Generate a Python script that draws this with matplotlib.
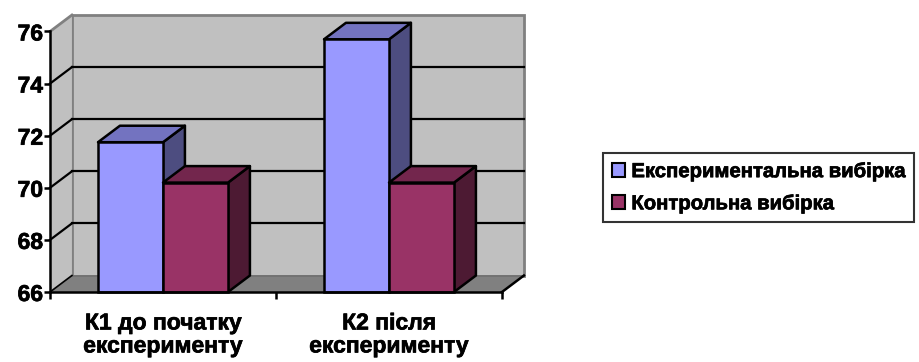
import matplotlib
matplotlib.use('Agg')
import matplotlib.pyplot as plt
import matplotlib.patheffects as pe
from matplotlib.patches import Polygon, Patch

plt.rcParams['font.family'] = ['Liberation Sans', 'DejaVu Sans']
plt.rcParams['font.weight'] = 'bold'

categories = ['К1 до початку\nексперименту', 'К2 після\nексперименту']
series_names = ['Експериментальна вибірка', 'Контрольна вибірка']
experimental = [71.75, 75.7]
control = [70.2, 70.2]
yticks = [66, 68, 70, 72, 74, 76]

front_cols = ['#9999FF', '#993366']
top_cols = ['#7373C0', '#73264D']
side_cols = ['#4D4D80', '#4D1A33']

ymin, ymax = 66, 76
dx, dy = 0.097, 0.633   # depth offset of the 3d box
bw = 0.2876             # bar width in category units
heavy = [pe.withStroke(linewidth=0.5, foreground='black')]

fig = plt.figure(figsize=(9.2, 3.62), dpi=100)
ax = fig.add_axes([50/920, 70/362, 452/920, 260.5/362])
ax.set_xlim(0, len(categories))
ax.set_ylim(ymin, ymax)
ax.patch.set_visible(False)
n = len(categories)

# walls and floor
wall = Polygon([(dx, ymin+dy), (n+dx, ymin+dy), (n+dx, ymax+dy), (dx, ymax+dy)],
               closed=True, fc='#C0C0C0', ec='#808080', lw=2, clip_on=False, zorder=0)
ax.add_patch(wall)
side = Polygon([(0, ymin), (dx, ymin+dy), (dx, ymax+dy), (0, ymax)],
               closed=True, fc='#C0C0C0', ec='none', clip_on=False, zorder=0)
ax.add_patch(side)
ax.plot([0, dx], [ymax, ymax+dy], color='#808080', lw=2, clip_on=False, zorder=1)
floor = Polygon([(0, ymin), (n, ymin), (n+dx, ymin+dy), (dx, ymin+dy)],
                closed=True, fc='#808080', ec='none', clip_on=False, zorder=1)
ax.add_patch(floor)
ax.plot([dx, n+dx], [ymin+dy, ymin+dy], color='#707070', lw=1.2, clip_on=False, zorder=1)
ax.plot([0, dx], [ymin, ymin+dy], color='black', lw=1.2, clip_on=False, zorder=1)
ax.plot([n, n+dx], [ymin, ymin+dy], color='black', lw=1.8, clip_on=False, zorder=1)

# gridlines on the back and side walls
for v in yticks[1:-1]:
    ax.plot([dx, n+dx], [v+dy, v+dy], color='black', lw=1.6, clip_on=False, zorder=1)
    ax.plot([0, dx], [v, v+dy], color='black', lw=1.6, clip_on=False, zorder=1)

# bars
for i in range(n):
    vals = [experimental[i], control[i]]
    for j, v in enumerate(vals):
        x0 = i + 0.5 - bw + j*bw
        front = Polygon([(x0, ymin), (x0+bw, ymin), (x0+bw, v), (x0, v)],
                        closed=True, fc=front_cols[j], ec='black', lw=1.8, zorder=3+j, clip_on=False)
        top = Polygon([(x0, v), (x0+bw, v), (x0+bw+dx, v+dy), (x0+dx, v+dy)],
                      closed=True, fc=top_cols[j], ec='black', lw=1.8, zorder=3+j, clip_on=False, joinstyle='round')
        sd = Polygon([(x0+bw, ymin), (x0+bw+dx, ymin+dy), (x0+bw+dx, v+dy), (x0+bw, v)],
                     closed=True, fc=side_cols[j], ec='black', lw=1.8, zorder=3+j, clip_on=False, joinstyle='round')
        ax.add_patch(sd)
        ax.add_patch(top)
        ax.add_patch(front)

# axes
for s in ['top', 'right']:
    ax.spines[s].set_visible(False)
ax.spines['left'].set_linewidth(1.8)
ax.spines['bottom'].set_linewidth(1.8)
ax.spines['left'].set_zorder(6)
ax.spines['bottom'].set_zorder(6)
ax.set_yticks(yticks)
ax.set_yticklabels([str(t) for t in yticks], fontsize=16.5, fontweight='bold')
ax.tick_params(axis='y', length=4, width=1.8, pad=1)
ax.set_xticks(range(n+1))
ax.set_xticklabels([])
ax.tick_params(axis='x', length=5, width=1.8)
ax.set_xticks([i+0.5 for i in range(n)], minor=True)
ax.set_xticklabels(categories, minor=True, fontsize=16.5, fontweight='bold', linespacing=1.0)
ax.tick_params(axis='x', which='minor', length=0, pad=14)
for t in ax.get_yticklabels() + ax.get_xticklabels(minor=True):
    t.set_path_effects(heavy)

handles = [Patch(fc=front_cols[0], ec='black', lw=1.5), Patch(fc=front_cols[1], ec='black', lw=1.5)]
leg = fig.legend(handles, series_names, loc='upper left', bbox_to_anchor=(603/920, 1-153/362),
                 prop={'family': 'Liberation Sans', 'weight': 'bold', 'size': 14.6},
                 frameon=True, fancybox=False, edgecolor='black', handlelength=0.65, handleheight=0.65,
                 handletextpad=0.3, borderpad=0.45, labelspacing=0.65, borderaxespad=0)
leg.get_frame().set_linewidth(1.5)
for t in leg.get_texts():
    t.set_path_effects(heavy)

fig.savefig('out.png', dpi=100)
